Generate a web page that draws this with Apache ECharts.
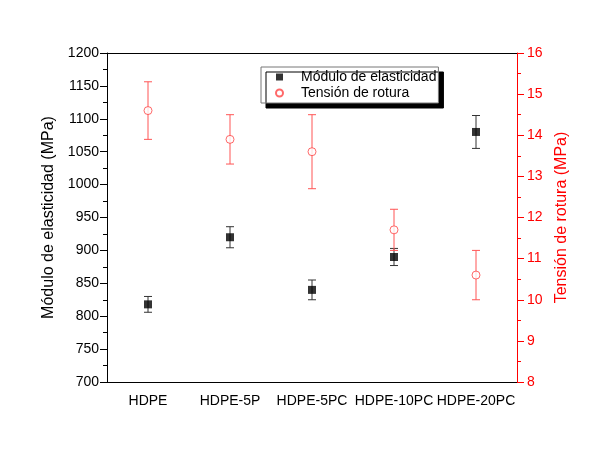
<!DOCTYPE html>
<html>
<head>
<meta charset="utf-8">
<script src="https://cdn.jsdelivr.net/npm/echarts@6/dist/echarts.min.js"></script>
<style>
  html, body { margin: 0; padding: 0; background: #fff; }
  #chart { width: 600px; height: 459px; }
</style>
</head>
<body>
<div id="chart"></div>
<script>
// sample names along the x axis
const categories = ['HDPE', 'HDPE-5P', 'HDPE-5PC', 'HDPE-10PC', 'HDPE-20PC'];

// elastic modulus (MPa) and its error
const modulus = [818, 920, 840, 890, 1080];
const modulusErr = [12, 16, 15, 13, 25];

// tensile strength (MPa) and its error
const tension = [14.6, 13.9, 13.6, 11.7, 10.6];
const tensionErr = [0.7, 0.6, 0.9, 0.5, 0.6];

const chart = echarts.init(document.getElementById('chart'));
const font = 'Liberation Sans, Arial, sans-serif';

// build [x, low, high] rows for the error bars
const errRows = (vals, errs) => vals.map((v, i) => [i, v - errs[i], v + errs[i]]);

function errorBar(color) {
    return function (params, api) {
        const lo = api.coord([api.value(0), api.value(1)]);
        const hi = api.coord([api.value(0), api.value(2)]);
        const half = 4;
        const style = { stroke: color, lineWidth: 1 };
        return {
            type: 'group',
            children: [
                { type: 'line', shape: { x1: lo[0], y1: lo[1], x2: hi[0], y2: hi[1] }, style },
                { type: 'line', shape: { x1: lo[0] - half, y1: lo[1], x2: lo[0] + half, y2: lo[1] }, style },
                { type: 'line', shape: { x1: hi[0] - half, y1: hi[1], x2: hi[0] + half, y2: hi[1] }, style }
            ]
        };
    };
}

const option = {
    animation: false,
    textStyle: { fontFamily: font },
    grid: { left: 107, right: 83, top: 53, bottom: 77 },
    legend: {
        left: 261,
        top: 67,
        orient: 'vertical',
        itemWidth: 7,
        itemHeight: 7,
        itemGap: 2,
        padding: [3, 2, 3, 14],
        borderColor: '#777',
        borderWidth: 1,
        backgroundColor: '#fff',
        shadowColor: '#000',
        shadowOffsetX: 5,
        shadowOffsetY: 5,
        shadowBlur: 0,
        textStyle: { fontSize: 14, color: '#000', fontFamily: font, padding: [0, 0, 0, 13] },
        data: [
            { name: 'Módulo de elasticidad', icon: 'rect' },
            { name: 'Tensión de rotura', icon: 'circle' }
        ]
    },
    xAxis: [
        {
            type: 'category',
            data: categories,
            position: 'bottom',
            axisLine: { lineStyle: { color: '#000', width: 1 } },
            axisTick: { alignWithLabel: true, length: 7, lineStyle: { color: '#000' } },
            axisLabel: { color: '#000', fontSize: 14, margin: 12, interval: 0 },
            splitLine: { show: false }
        },
        {
            type: 'category',
            data: categories,
            position: 'top',
            axisLine: { lineStyle: { color: '#000', width: 1 } },
            axisTick: { alignWithLabel: true, inside: true, length: 7, lineStyle: { color: '#000' } },
            axisLabel: { show: false },
            splitLine: { show: false }
        }
    ],
    yAxis: [
        {
            type: 'value',
            min: 700,
            max: 1200,
            interval: 50,
            position: 'left',
            name: 'Módulo de elasticidad (MPa)',
            nameLocation: 'middle',
            nameGap: 42,
            nameTextStyle: { color: '#000', fontSize: 16, fontFamily: font },
            axisLine: { show: true, lineStyle: { color: '#000' } },
            axisTick: { show: true, length: 7, lineStyle: { color: '#000' } },
            minorTick: { show: true, splitNumber: 2, length: 4, lineStyle: { color: '#000' } },
            axisLabel: { color: '#000', fontSize: 14, margin: 8, formatter: v => String(v) },
            splitLine: { show: false }
        },
        {
            type: 'value',
            min: 8,
            max: 16,
            interval: 1,
            position: 'right',
            name: 'Tensión de rotura (MPa)',
            nameLocation: 'middle',
            nameGap: 30,
            nameRotate: 90,
            nameTextStyle: { color: '#ff0000', fontSize: 16, fontFamily: font },
            axisLine: { show: true, lineStyle: { color: '#ff0000' } },
            axisTick: { show: true, length: 7, lineStyle: { color: '#ff0000' } },
            minorTick: { show: true, splitNumber: 2, length: 4, lineStyle: { color: '#ff0000' } },
            axisLabel: { color: '#ff0000', fontSize: 14, margin: 10 },
            splitLine: { show: false }
        }
    ],
    series: [
        {
            name: 'modulus-err',
            type: 'custom',
            yAxisIndex: 0,
            renderItem: errorBar('#333'),
            encode: { x: 0, y: [1, 2] },
            data: errRows(modulus, modulusErr),
            z: 2
        },
        {
            name: 'tension-err',
            type: 'custom',
            yAxisIndex: 1,
            renderItem: errorBar('#ff5555'),
            encode: { x: 0, y: [1, 2] },
            data: errRows(tension, tensionErr),
            z: 2
        },
        {
            name: 'Módulo de elasticidad',
            type: 'scatter',
            yAxisIndex: 0,
            symbol: 'rect',
            symbolSize: 8,
            itemStyle: { color: '#000' },
            data: modulus,
            z: 3
        },
        {
            name: 'Tensión de rotura',
            type: 'scatter',
            yAxisIndex: 1,
            symbol: 'circle',
            symbolSize: 8,
            itemStyle: { color: '#fff', borderColor: '#ff4444', borderWidth: 1 },
            data: tension,
            z: 3
        }
    ]
};

chart.setOption(option);
</script>
</body>
</html>
